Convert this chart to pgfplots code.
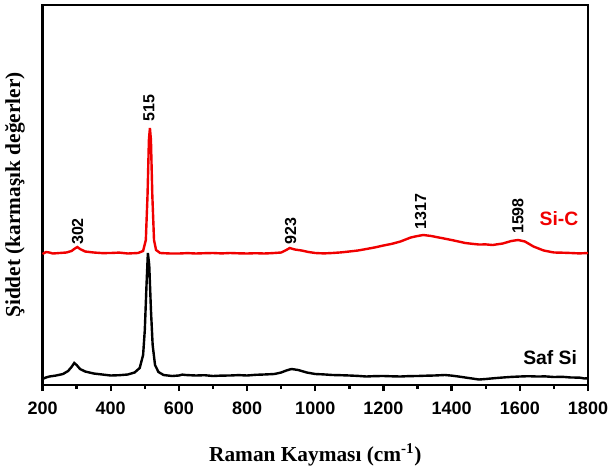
\documentclass[border=0pt]{standalone}
\usepackage{fontspec}
\setmainfont{Liberation Serif}
\setsansfont{Liberation Sans}
\usepackage{pgfplots}
\pgfplotsset{compat=1.18}

\definecolor{sicred}{RGB}{240,0,0}

% Raman spectra, values
\pgfplotstableread{
x y
200 6
210 7.5
220 8.5
240 9.5
260 11
275 14
285 18
293 22
300 20
310 16
325 13.5
350 11.5
375 10.5
400 9.5
425 9.8
450 10.5
470 12.5
485 17
495 30
500 55
505 100
509 132
513 120
518 75
523 40
530 20
540 13
555 10
580 9
600 9.5
610 10.4
620 10
650 9.5
675 9.8
700 9
725 9.4
750 9.5
775 9.9
800 9.5
825 10.2
850 10.5
880 11
900 12.5
915 14.5
930 16
950 15
975 12.5
1000 11
1025 10.6
1050 10
1075 9.8
1100 9.5
1125 9.1
1150 8.5
1175 8.9
1200 9
1225 8.7
1250 8.5
1275 8.9
1300 9
1325 9.3
1350 9.5
1380 10
1400 9.4
1420 8.5
1450 7
1480 5.5
1500 6
1525 6.8
1550 7.5
1575 8.1
1600 8.5
1625 8.8
1650 8.5
1675 8.6
1700 8
1725 8.2
1750 7.5
1775 7.4
1790 6.5
1800 6.8
}\safsi

\pgfplotstableread{
x y
200 131
210 133
220 132.5
230 131.5
250 132
270 132.5
285 134
295 136.5
302 138
310 136
325 133.5
350 132.5
375 131.9
400 132
425 132.4
450 131.5
480 132
495 134
503 145
508 190
512 245
515 257
518 245
522 190
527 145
533 135
545 132
575 131.5
600 131.5
625 131.9
650 131.5
675 131.8
700 132
725 131.6
750 132
775 131.7
800 131.5
825 131.8
850 131.5
875 131.9
900 132.5
915 135
925 137
940 135.5
960 134.5
980 133
1000 132
1025 131.6
1050 132
1075 132.6
1100 133.5
1125 134.5
1150 136
1175 137.6
1200 139.5
1225 141.2
1250 143.5
1280 147.5
1300 149
1317 150
1340 149
1370 147
1400 145
1420 143.5
1440 142
1460 141.2
1480 140.5
1500 140.6
1520 140
1550 141.5
1575 144
1595 145
1615 143.5
1640 138.5
1670 134.5
1700 132.5
1725 132.3
1750 132
1775 131.6
1800 132
}\sic

\begin{document}
\begin{tikzpicture}
\begin{axis}[
  scale only axis,
  width=409.1pt, height=285pt,
  xmin=200, xmax=1800,
  ymin=0, ymax=380,
  axis line style={line width=2.2pt},
  xtick={200,400,...,1800},
  minor x tick num=1,
  ytick=\empty,
  xtick pos=bottom,
  tick align=outside,
  major tick length=4.5pt,
  minor tick length=3pt,
  every tick/.style={line width=1.8pt, black},
  /pgf/number format/1000 sep={},
  /pgf/number format/assume math mode=true,
  xticklabel style={font=\sffamily\bfseries\fontsize{13.5}{15}\selectfont, yshift=-5pt},
  xlabel={\bfseries Raman Kaymas\i{} (cm\textsuperscript{-1})},
  ylabel={\bfseries Şiddet (karmaşık değerler)},
  xlabel style={font=\fontsize{16}{18}\selectfont, at={(axis description cs:0.5,-0.184)}, anchor=center},
  ylabel style={font=\fontsize{16}{18}\selectfont, at={(axis description cs:-0.0504,0.5)}, anchor=center},
  clip=false,
]
\addplot[black, line width=1.8pt] table[x=x, y=y] {\safsi};
\addplot[sicred, line width=1.8pt] table[x=x, y=y] {\sic};

\begin{scope}[every node/.style={font=\sffamily\bfseries\fontsize{12}{13}\selectfont, rotate=90, anchor=center}]
\node at (axis cs:303,153.5) {302};
\node at (axis cs:512,277) {515};
\node at (axis cs:928,154) {923};
\node at (axis cs:1309,173.3) {1317};
\node at (axis cs:1594,169) {1598};
\end{scope}
\node[font=\sffamily\bfseries\fontsize{14.5}{16}\selectfont, text=sicred] at (axis cs:1715,166) {Si-C};
\node[font=\sffamily\bfseries\fontsize{14.5}{16}\selectfont] at (axis cs:1689,27) {Saf Si};
\end{axis}
\pgfresetboundingbox
\path[use as bounding box] ([shift={(-31.9pt,-65.25pt)}]current axis.south west) rectangle ([shift={(16.5pt,3.75pt)}]current axis.north east);
\end{tikzpicture}
\end{document}
